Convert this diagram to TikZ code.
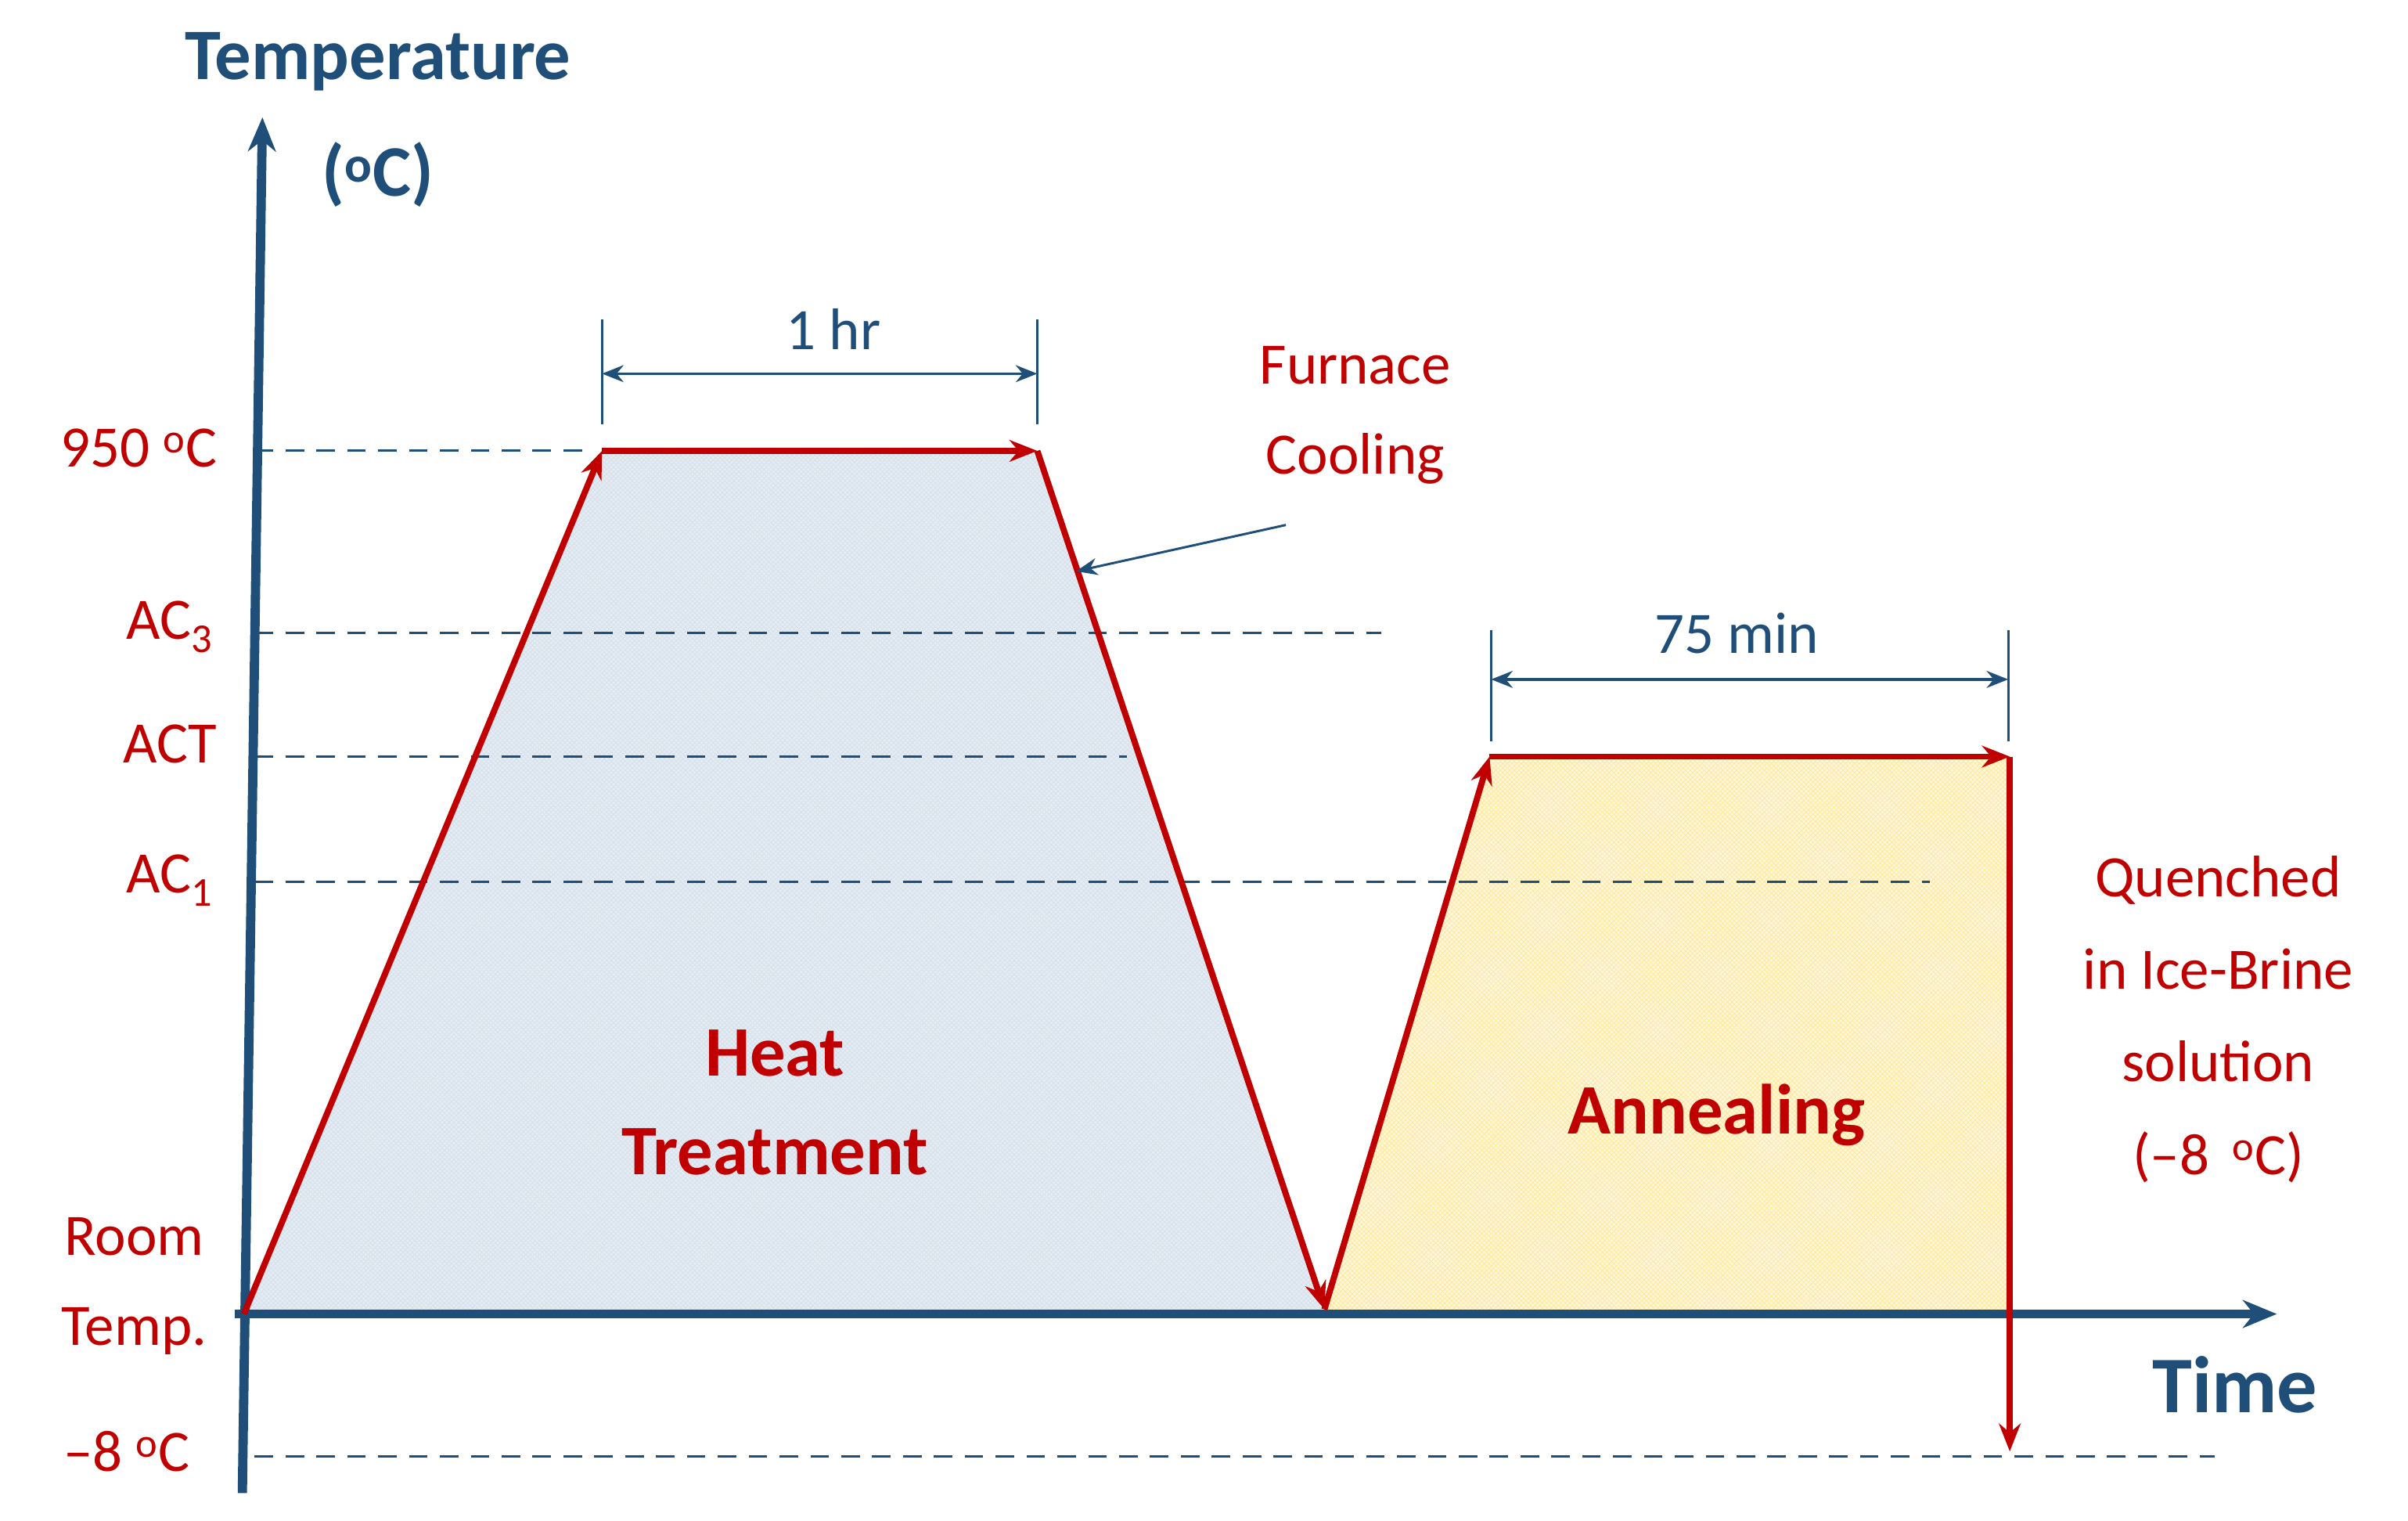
\documentclass[tikz,border=0pt]{standalone}
\usepackage{fontspec}
\setmainfont{Carlito}
\usetikzlibrary{arrows.meta,patterns}
\definecolor{ax}{HTML}{1F4E79}
\definecolor{rd}{HTML}{C00000}
\definecolor{lb}{HTML}{E4ECF6}
\definecolor{ly}{HTML}{FFE79A}
\begin{document}
\begin{tikzpicture}[x=1pt,y=-1pt,
  lab/.style={text=rd,font=\fontsize{38}{44}\selectfont,align=center},
  dim/.style={text=ax,font=\fontsize{38}{44}\selectfont},
  big/.style={text=ax,font=\bfseries\fontsize{47}{54}\selectfont},
  dashl/.style={ax,line width=1.5pt,dash pattern=on 12pt off 8pt},
  redl/.style={rd,line width=4pt,-{Stealth[length=18pt,width=14pt]}},
  dimar/.style={ax,line width=1.8pt,{Stealth[length=14pt,width=11pt]}-{Stealth[length=14pt,width=11pt]}},
  tickl/.style={ax,line width=1.5pt}]
\useasboundingbox (0,0) rectangle (1560,985);
% fills
\fill[lb] (158,851) -- (390,292) -- (672,292) -- (858,851) -- cycle;
\fill[pattern=crosshatch,pattern color=ax!18] (158,851) -- (390,292) -- (672,292) -- (858,851) -- cycle;
\fill[ly!30] (858,851) -- (965,490) -- (1302,490) -- (1302,851) -- cycle;
\fill[pattern=crosshatch,pattern color=ly] (858,851) -- (965,490) -- (1302,490) -- (1302,851) -- cycle;
% dashed lines
\coordinate (d950a) at (165,292); \coordinate (d950b) at (380,292);
\draw[dashl] (d950a) -- (d950b);
\coordinate (ac3a) at (165,410); \coordinate (ac3b) at (895,410);
\draw[dashl] (ac3a) -- (ac3b);
\coordinate (acta) at (165,490); \coordinate (actb) at (730,490);
\draw[dashl] (acta) -- (actb);
\coordinate (ac1a) at (165,571); \coordinate (ac1b) at (1250,571);
\draw[dashl] (ac1a) -- (ac1b);
\coordinate (m8a) at (165,943); \coordinate (m8b) at (1435,943);
\draw[dashl] (m8a) -- (m8b);
% axes
\coordinate (yb) at (157,967); \coordinate (yt) at (170,76);
\draw[ax,line width=6pt,-{Stealth[length=22pt,width=18pt]}] (yb) -- (yt);
\coordinate (xl) at (152,851); \coordinate (xr) at (1475,851);
\draw[ax,line width=6pt,-{Stealth[length=22pt,width=18pt]}] (xl) -- (xr);
% profile
\coordinate (p0) at (158,851); \coordinate (p1) at (390,292);
\coordinate (p2) at (672,292); \coordinate (p3) at (858,848);
\coordinate (p4) at (965,490); \coordinate (p5) at (1302,490);
\coordinate (p6) at (1302,940);
\draw[redl] (p0) -- (p1);
\draw[redl] (p1) -- (p2);
\draw[redl] (p2) -- (p3);
\draw[redl] (p3) -- (p4);
\draw[redl] (p4) -- (p5);
\draw[redl] (p5) -- (p6);
% dimensions
\coordinate (t1a) at (390,207); \coordinate (t1b) at (390,275);
\coordinate (t2a) at (672,207); \coordinate (t2b) at (672,275);
\draw[tickl] (t1a) -- (t1b); \draw[tickl] (t2a) -- (t2b);
\coordinate (h1) at (390,242); \coordinate (h2) at (672,242);
\draw[dimar] (h1) -- (h2);
\node[dim] (hr) at (540,213) {1 hr};
\coordinate (t3a) at (966,408); \coordinate (t3b) at (966,480);
\coordinate (t4a) at (1301,408); \coordinate (t4b) at (1301,480);
\draw[tickl] (t3a) -- (t3b); \draw[tickl] (t4a) -- (t4b);
\coordinate (m1) at (966,440); \coordinate (m2) at (1301,440);
\draw[dimar] (m1) -- (m2);
\node[dim] (min) at (1125,410) {75 min};
% labels
\node[big] (temp) at (245,40) {Temperature};
\node[big] (degc) at (245,113) {(\textsuperscript{o}C)};
\node[big,font=\bfseries\fontsize{52}{56}\selectfont] (time) at (1448,897) {Time};
\node[lab] (l950) at (90,290) {950 \textsuperscript{o}C};
\node[lab] (lac3) at (110,406) {AC\textsubscript{3}};
\node[lab] (lact) at (110,482) {ACT};
\node[lab] (lac1) at (110,570) {AC\textsubscript{1}};
\node[lab,font=\fontsize{38}{58}\selectfont] (room) at (87,833) {Room\\Temp.};
\node[lab] (lm8) at (82,940) {--8 \textsuperscript{o}C};
\node[lab,font=\fontsize{38}{58}\selectfont] (furn) at (878,269) {Furnace\\Cooling};
\coordinate (fa) at (833,340); \coordinate (fb) at (697,370);
\draw[ax,line width=1.5pt,-{Stealth[length=14pt,width=11pt]}] (fa) -- (fb);
\node[lab,font=\bfseries\fontsize{46}{64}\selectfont] (ht) at (502,714) {Heat\\Treatment};
\node[lab,font=\bfseries\fontsize{46}{52}\selectfont] (ann) at (1112,722) {Annealing};
\node[lab,font=\fontsize{38}{60}\selectfont] (q) at (1437,660) {Quenched\\in Ice-Brine\\solution\\(--8 \,\textsuperscript{o}C)};
\end{tikzpicture}
\end{document}
